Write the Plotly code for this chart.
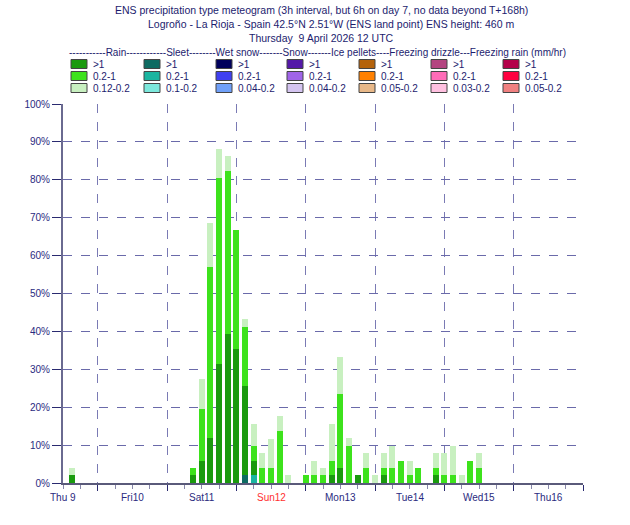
import plotly.graph_objects as go

# ---------------- data (percent of ensemble members) ----------------
# lead time in hours after Thursday 9 April 2026 12 UTC (bar at end of 3h interval)
lead_h = [3, 45, 48, 51, 54, 57, 60, 63, 66, 69, 72, 75, 78,
          84, 87, 90, 93, 96, 99, 102, 105, 108, 111, 114, 117, 120, 123,
          129, 132, 135, 138, 141, 144]

rain_gt1 = [2.0, 2.0, 5.9, 11.8, 31.4, 39.2, 35.3, 23.5, 3.9, 0, 0, 0, 0,
            0, 0, 0, 2.0, 3.9, 0, 2.0, 0, 0, 2.0, 0, 0, 0, 0,
            2.0, 0, 0, 0, 0, 0]
rain_mid = [0, 2.0, 13.7, 45.1, 49.0, 43.1, 31.4, 15.7, 3.9, 3.9, 3.9, 13.7, 0,
            2.0, 2.0, 2.0, 3.9, 19.6, 9.8, 0, 3.9, 0, 2.0, 3.9, 5.9, 2.0, 3.9,
            2.0, 2.0, 2.0, 0, 5.9, 3.9]
rain_light = [2.0, 0, 7.8, 11.8, 7.8, 3.9, 0, 2.0, 5.9, 3.9, 7.8, 3.9, 2.0,
              0, 3.9, 2.0, 9.8, 9.8, 2.0, 0, 3.9, 2.0, 3.9, 5.9, 0, 3.9, 0,
              3.9, 5.9, 7.8, 2.0, 0, 3.9]
sleet_gt1 = [0, 0, 0, 0, 0, 0, 0, 2.0, 0, 0, 0, 0, 0,
             0, 0, 0, 0, 0, 0, 0, 0, 0, 0, 0, 0, 0, 0,
             0, 0, 0, 0, 0, 0]
sleet_mid = [0, 0, 0, 0, 0, 0, 0, 0, 2.0, 0, 0, 0, 0,
             0, 0, 0, 0, 0, 0, 0, 0, 0, 0, 0, 0, 0, 0,
             0, 0, 0, 0, 0, 0]

day_labels = ["Thu 9", "Fri10", "Sat11", "Sun12", "Mon13", "Tue14", "Wed15", "Thu16"]
y_ticks = [0, 10, 20, 30, 40, 50, 60, 70, 80, 90, 100]

legend_types = ["Rain", "Sleet", "Wet snow", "Snow", "Ice pellets", "Freezing drizzle", "Freezing rain (mm/hr)"]
legend_dashes = [11, 12, 8, 7, 7, 4, 3]
legend_ranges = [
    [">1", "0.2-1", "0.12-0.2"],
    [">1", "0.2-1", "0.1-0.2"],
    [">1", "0.2-1", "0.04-0.2"],
    [">1", "0.2-1", "0.04-0.2"],
    [">1", "0.2-1", "0.05-0.2"],
    [">1", "0.2-1", "0.03-0.2"],
    [">1", "0.2-1", "0.05-0.2"],
]
legend_colors = [
    ["#1a9a0e", "#3de21c", "#c8f0c0"],
    ["#0e6b62", "#1ab5a0", "#7ce8dc"],
    ["#00005c", "#4040f0", "#70a0f8"],
    ["#5418a8", "#a064e8", "#d4c4f0"],
    ["#b4620a", "#ff8000", "#e8b888"],
    ["#b44480", "#ff6cb8", "#ffc0e0"],
    ["#b4004a", "#ff0040", "#f08080"],
]

# ---------------- geometry helpers ----------------
W, H = 630, 525
L, R, T, B = 63, 583, 104, 483


def px(x):
    return (x - L) / (R - L)


def py(y):
    return (B - y) / (B - T)


NAVY = "#1c1c6e"
FONT = "Liberation Sans, Arial, sans-serif"

# x in hours since Thursday 9 April 00 UTC
x_vals = [12 + h for h in lead_h]

fig = go.Figure()
series = [
    (sleet_gt1, legend_colors[1][0]),
    (sleet_mid, legend_colors[1][1]),
    (rain_gt1, legend_colors[0][0]),
    (rain_mid, legend_colors[0][1]),
    (rain_light, legend_colors[0][2]),
]
for vals, col in series:
    fig.add_trace(go.Bar(x=x_vals, y=vals, width=2.1, marker=dict(color=col, line=dict(width=0)),
                         showlegend=False, hoverinfo="skip"))

# ---------------- annotations & shapes ----------------
ann = []
shapes = []
titles = [
    ("ENS precipitation type meteogram (3h interval, but 6h on day 7, no data beyond T+168h)", 321, 10),
    ("Logroño - La Rioja - Spain 42.5°N 2.51°W (ENS land point) ENS height: 460 m", 331, 24),
    ("Thursday  9 April 2026 12 UTC", 321, 38),
]
for txt, xc, yc in titles:
    ann.append(dict(text=txt, x=px(xc), y=py(yc), xref="paper", yref="paper",
                    xanchor="center", yanchor="middle", showarrow=False,
                    font=dict(family=FONT, size=10.5, color=NAVY)))

header = "".join("-" * n + name for n, name in zip(legend_dashes, legend_types))
ann.append(dict(text=header, x=px(67), y=py(53), xref="paper", yref="paper",
                xanchor="left", yanchor="middle", showarrow=False,
                font=dict(family=FONT, size=10, color=NAVY)))

col_x = [71, 144, 216, 287, 359, 431, 503]
row_y = [64, 76, 88]
for c in range(7):
    for r in range(3):
        x0 = col_x[c]
        yc = row_y[r]
        shapes.append(dict(type="rect", xref="paper", yref="paper",
                           x0=px(x0), x1=px(x0 + 16), y0=py(yc + 4.5), y1=py(yc - 4.5),
                           fillcolor=legend_colors[c][r], line=dict(color="#444444", width=1)))
        ann.append(dict(text=legend_ranges[c][r], x=px(x0 + 20), y=py(yc), xref="paper", yref="paper",
                        xanchor="left", yanchor="middle", showarrow=False,
                        font=dict(family=FONT, size=10, color=NAVY)))

for i, lab in enumerate(day_labels):
    ann.append(dict(text=lab, x=12 + 24 * i, y=py(490), xref="x", yref="paper",
                    xanchor="center", yanchor="top", showarrow=False,
                    font=dict(family=FONT, size=10, color="#ff3030" if lab.startswith("Sun") else "#2a2a80")))

fig.update_layout(
    width=W, height=H,
    margin=dict(l=L, r=W - R, t=T, b=H - B, pad=0),
    paper_bgcolor="white", plot_bgcolor="white",
    barmode="stack", bargap=0,
    annotations=ann, shapes=shapes,
    showlegend=False,
)
fig.update_xaxes(
    range=[12, 192], tickmode="array", tickvals=[24 * k for k in range(1, 9)],
    ticktext=[""] * 8, ticks="outside", ticklen=6, tickcolor="#2a2a70", tickwidth=1,
    showgrid=True, gridcolor="#7a7ab4", griddash="dash", gridwidth=1,
    showline=True, linecolor="#5a5a7a", linewidth=2, zeroline=False,
    minor=dict(dtick=6, tick0=0, ticks="outside", ticklen=4, tickcolor="#8888aa", showgrid=False),
    fixedrange=True,
)
fig.update_yaxes(
    range=[0, 100], tickmode="array", tickvals=y_ticks, ticktext=[f"{v}%" for v in y_ticks],
    ticks="outside", ticklen=9, tickcolor="#2a2a70", tickwidth=1,
    tickfont=dict(family=FONT, size=10, color="#2a2a80"),
    showgrid=True, gridcolor="#6a6aaa", griddash="dash", gridwidth=1,
    showline=True, linecolor="#6a6a90", linewidth=2, zeroline=False, fixedrange=True,
)

fig.write_html("out.html")
